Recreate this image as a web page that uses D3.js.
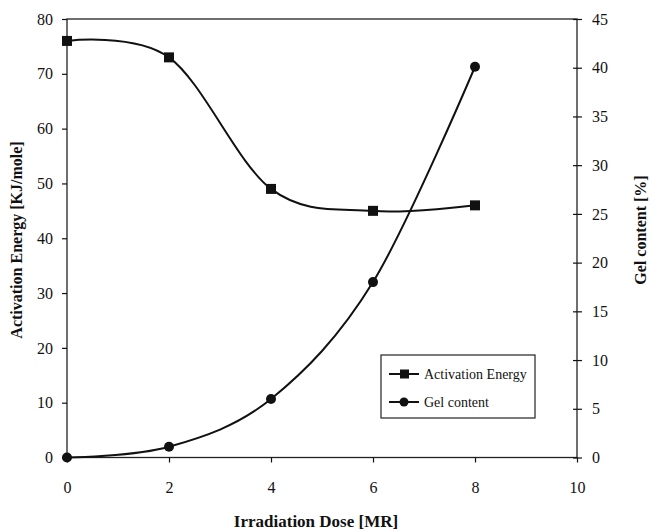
<!DOCTYPE html>
<html><head><meta charset="utf-8">
<script src="https://cdn.jsdelivr.net/npm/d3@7"></script>
<style>body{margin:0;background:#fff}svg{display:block}text{font-family:"Liberation Serif","Times New Roman",serif;fill:#111}</style>
</head><body>
<script>
const doses = [0, 2, 4, 6, 8];
const activationEnergy = [76, 73, 49, 45, 46];
const gelContent = [0, 1.1, 6, 18, 40.1];
const xTicks = [0, 2, 4, 6, 8, 10];
const yLeftTicks = [0, 10, 20, 30, 40, 50, 60, 70, 80];
const yRightTicks = [0, 5, 10, 15, 20, 25, 30, 35, 40, 45];

const FONT = "'Liberation Serif','Times New Roman',serif";
const W = 652, H = 532;
const svg = d3.select("body").append("svg").attr("width", W).attr("height", H);
const L = 67, R = 577, T = 19, B = 457.5;
const x = d3.scaleLinear().domain([0, 10]).range([L, R]);
const yL = d3.scaleLinear().domain([0, 80]).range([B, T]);
const yR = d3.scaleLinear().domain([0, 45]).range([B, T]);

svg.append("rect").attr("x", L).attr("y", T).attr("width", R - L).attr("height", B - T)
  .attr("fill", "none").attr("stroke", "#222").attr("stroke-width", 1.3);

const ink = "#111";
function styleAxis(g) {
  g.attr("font-family", FONT).attr("font-size", 16);
  g.select(".domain").remove();
  g.selectAll("line").attr("stroke", ink).attr("stroke-width", 1.2);
  g.selectAll("text").attr("fill", ink).style("font-family", FONT).style("font-size", "16px");
}
const gl = svg.append("g").attr("transform", `translate(${L},0)`)
  .call(d3.axisLeft(yL).tickValues(yLeftTicks).tickSize(5).tickPadding(9));
styleAxis(gl);

const gr = svg.append("g").attr("transform", `translate(${R},0)`)
  .call(d3.axisRight(yR).tickValues(yRightTicks).tickSize(5).tickPadding(10));
styleAxis(gr);
gr.selectAll("line").attr("x1", -4);

const gx = svg.append("g").attr("transform", `translate(0,${B})`)
  .call(d3.axisBottom(x).tickValues(xTicks).tickSize(5).tickPadding(19));
styleAxis(gx);

svg.append("text").attr("transform", `translate(22,240) rotate(-90)`).attr("text-anchor", "middle")
  .style("font-size", "16px").style("font-weight", "bold").text("Activation Energy [KJ/mole]");
svg.append("text").attr("transform", `translate(646,230) rotate(-90)`).attr("text-anchor", "middle")
  .style("font-size", "16px").style("font-weight", "bold").text("Gel content [%]");
svg.append("text").attr("x", 316).attr("y", 527).attr("text-anchor", "middle")
  .style("font-size", "17px").style("font-weight", "bold").text("Irradiation Dose [MR]");

const ae = doses.map((d, i) => [d, activationEnergy[i]]);
const gc = doses.map((d, i) => [d, gelContent[i]]);
const curve = d3.curveCardinal.tension(0);

svg.append("path").datum(ae).attr("fill", "none").attr("stroke", ink).attr("stroke-width", 2)
  .attr("d", d3.line().x(d => x(d[0])).y(d => yL(d[1])).curve(curve));
svg.append("path").datum(gc).attr("fill", "none").attr("stroke", ink).attr("stroke-width", 2)
  .attr("d", d3.line().x(d => x(d[0])).y(d => yR(d[1])).curve(curve));

const s = 10;
svg.selectAll(".sq").data(ae).enter().append("rect")
  .attr("x", d => x(d[0]) - s / 2).attr("y", d => yL(d[1]) - s / 2)
  .attr("width", s).attr("height", s).attr("fill", ink);
svg.selectAll(".ci").data(gc).enter().append("circle")
  .attr("cx", d => x(d[0])).attr("cy", d => yR(d[1])).attr("r", 5).attr("fill", ink);

const lg = svg.append("g");
lg.append("rect").attr("x", 381).attr("y", 355).attr("width", 154).attr("height", 63)
  .attr("fill", "#fff").attr("stroke", "#222").attr("stroke-width", 1.2);
const items = [["Activation Energy", "sq", 374], ["Gel content", "ci", 402]];
items.forEach(([label, m, yy]) => {
  lg.append("line").attr("x1", 389).attr("x2", 419).attr("y1", yy).attr("y2", yy)
    .attr("stroke", ink).attr("stroke-width", 2);
  if (m === "sq") lg.append("rect").attr("x", 400).attr("y", yy - 4.5).attr("width", 9).attr("height", 9).attr("fill", ink);
  else lg.append("circle").attr("cx", 404).attr("cy", yy).attr("r", 4.5).attr("fill", ink);
  lg.append("text").attr("x", 424).attr("y", yy + 4.5).style("font-size", "14px").text(label);
});
</script>
</body></html>
